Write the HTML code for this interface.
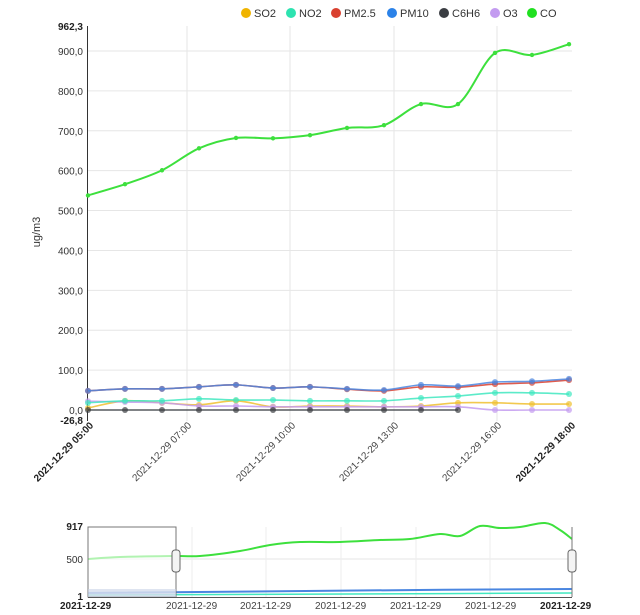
<!DOCTYPE html>
<html><head><meta charset="utf-8"><style>
body{margin:0;background:#fff;}
svg{display:block;font-family:"Liberation Sans",Roboto,sans-serif;}
</style></head><body>
<svg id="s" width="640" height="615" viewBox="0 0 640 615" xmlns="http://www.w3.org/2000/svg">
<g font-size="11" fill="#333">
<circle cx="246" cy="13" r="5" fill="#f0b400"/><text x="254" y="17">SO2</text>
<circle cx="291" cy="13" r="5" fill="#2de3b0"/><text x="299" y="17">NO2</text>
<circle cx="336" cy="13" r="5" fill="#d9402f"/><text x="344" y="17">PM2.5</text>
<circle cx="392" cy="13" r="5" fill="#2b82e8"/><text x="400" y="17">PM10</text>
<circle cx="444" cy="13" r="5" fill="#3a3d42"/><text x="452" y="17">C6H6</text>
<circle cx="495" cy="13" r="5" fill="#c39bf0"/><text x="503" y="17">O3</text>
<circle cx="532" cy="13" r="5" fill="#20e020"/><text x="540" y="17">CO</text>
</g>
<text transform="translate(40,232) rotate(-90)" font-size="11" fill="#333" text-anchor="middle">ug/m3</text>
<g id="main"></g>
<g id="nav"></g>
</svg>
<script>
const ns="http://www.w3.org/2000/svg";
function el(p,t,a,txt){const e=document.createElementNS(ns,t);for(const k in a)e.setAttribute(k,a[k]);if(txt!==undefined)e.textContent=txt;p.appendChild(e);return e;}
const M=document.getElementById('main');
const y0=410,k=0.3989,X=i=>88+i*37;const Y=v=>y0-v*k;
// grid
for(let v=100;v<=900;v+=100){el(M,'line',{x1:88,x2:572,y1:Y(v),y2:Y(v),stroke:'#e6e6e6'});}
[187,290,394,497].forEach(x=>el(M,'line',{x1:x,x2:x,y1:26,y2:421,stroke:'#e6e6e6'}));
el(M,'line',{x1:87.5,x2:87.5,y1:26,y2:421,stroke:'#333'});
for(let v=0;v<=900;v+=100){el(M,'text',{x:83,y:Y(v)+4,'font-size':10,fill:'#333','text-anchor':'end'},v+',0');}
el(M,'text',{x:83,y:30,'font-size':10,'font-weight':'bold',fill:'#222','text-anchor':'end'},'962,3');
el(M,'text',{x:83,y:424,'font-size':10,'font-weight':'bold',fill:'#222','text-anchor':'end'},'-26,8');
const labs=[[94,'05:00',1],[192,'07:00',0],[296,'10:00',0],[399,'13:00',0],[502,'16:00',0],[576,'18:00',1]];
labs.forEach(([x,t,b])=>el(M,'text',{transform:`translate(${x},426) rotate(-45)`,'font-size':10,'font-weight':b?'bold':'normal',fill:b?'#222':'#444','text-anchor':'end'},'2021-12-29 '+t));
const S={
so2:['#f0c030',[5,23,18,13,23,8,10,10,8,10,18,18,15,15]],
o3:['#c39bf0',[22,20,18,10,10,8,8,8,8,8,8,0,0,0]],
c6h6:['#3a3d42',[0,0,0,0,0,0,0,0,0,0,0]],
no2:['#40e8c0',[18,23,23,28,25,25,23,23,23,30,35,43,43,40]],
pm25:['#d9402f',[48,53,53,58,63,55,58,52,48,58,57,65,68,75]],
pm10:['#4a86e0',[48,53,53,58,63,55,58,53,50,63,60,70,72,78]],
co:['#3de03d',[538,566,601,656,682,681,689,707,714,767,767,895,890,917]]};
function smooth(pts){let d='M'+pts[0].join(',');for(let i=0;i<pts.length-1;i++){const p0=pts[i-1]||pts[i],p1=pts[i],p2=pts[i+1],p3=pts[i+2]||p2;const c1=[p1[0]+(p2[0]-p0[0])/6,p1[1]+(p2[1]-p0[1])/6],c2=[p2[0]-(p3[0]-p1[0])/6,p2[1]-(p3[1]-p1[1])/6];d+=`C${c1} ${c2} ${p2}`;}return d;}
for(const key in S){const [c,v]=S[key];const pts=v.map((a,i)=>[X(i),Y(a)]);
el(M,'path',{d:smooth(pts),fill:'none',stroke:c,'stroke-width':key=='co'?2:1.6,opacity:key=='co'?1:0.85});
pts.forEach(p=>el(M,'circle',{cx:p[0],cy:p[1],r:key=='co'?2.2:3,fill:c,opacity:key=='co'?1:0.7}));}
// navigator
const N=document.getElementById('nav');
el(N,'line',{x1:88,x2:572,y1:559,y2:559,stroke:'#e6e6e6'});
[192,266,341,416,490].forEach(x=>el(N,'line',{x1:x,x2:x,y1:527,y2:597,stroke:'#eee'}));
el(N,'text',{x:83,y:530,'font-size':10,'font-weight':'bold',fill:'#222','text-anchor':'end'},'917');
el(N,'text',{x:83,y:563,'font-size':10,fill:'#333','text-anchor':'end'},'500');
el(N,'text',{x:83,y:600,'font-size':10,'font-weight':'bold',fill:'#222','text-anchor':'end'},'1');
const nco=[[88,559],[120,557],[176,556],[200,556],[240,551],[270,545],[300,542],[340,542],[380,540],[410,539],[440,534],[460,536],[480,526],[500,528],[520,527],[545,523],[560,530],[572,539]];
el(N,'path',{d:smooth(nco),fill:'none',stroke:'#3de03d','stroke-width':2});
el(N,'path',{d:'M88,593 C200,591 400,590 572,589',fill:'none',stroke:'#4a86e0','stroke-width':2});
el(N,'path',{d:'M88,595 C200,594 400,594 572,593',fill:'none',stroke:'#40e8c0','stroke-width':1.5});
el(N,'rect',{x:88,y:527,width:88,height:70,fill:'rgba(255,255,255,0.6)',stroke:'#777'});
el(N,'rect',{x:88,y:589,width:88,height:8,fill:'rgba(200,210,230,0.6)'});
el(N,'line',{x1:88,x2:572,y1:597.5,y2:597.5,stroke:'#555'});
el(N,'line',{x1:572,x2:572,y1:527,y2:597,stroke:'#777'});
[176,572].forEach(x=>el(N,'rect',{x:x-4,y:550,width:8,height:22,rx:3,fill:'#f4f4f4',stroke:'#666'}));
el(N,'text',{x:60,y:609,'font-size':10,'font-weight':'bold',fill:'#222'},'2021-12-29');
[166,240,315,390,465].forEach(x=>el(N,'text',{x:x,y:609,'font-size':10,fill:'#444'},'2021-12-29'));
el(N,'text',{x:540,y:609,'font-size':10,'font-weight':'bold',fill:'#222'},'2021-12-29');
</script>
</body></html>
